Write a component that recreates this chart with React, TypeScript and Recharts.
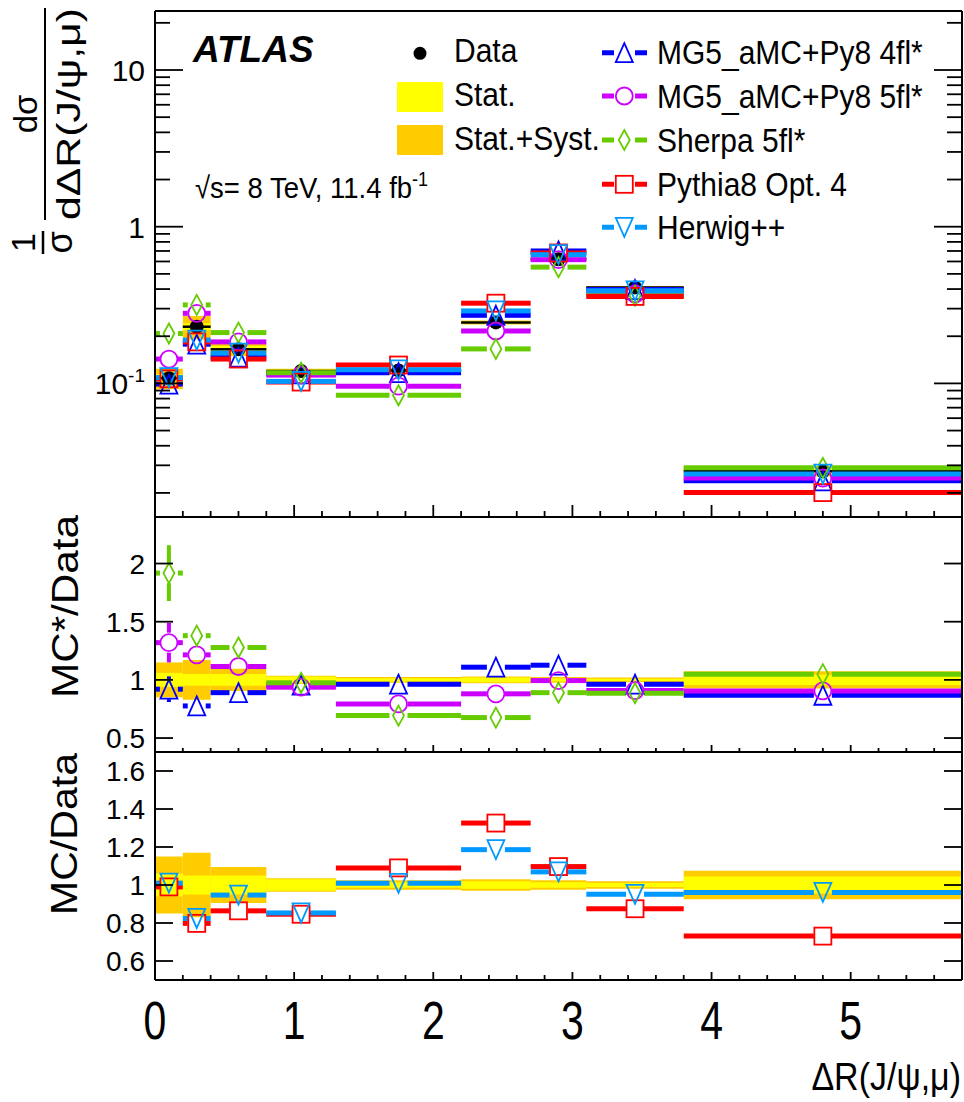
import React from 'react';
import { ComposedChart, XAxis, YAxis, Scatter, ReferenceArea, ReferenceLine } from 'recharts';

// bins in ΔR(J/ψ,μ)
const binEdges = [0, 0.2, 0.4, 0.8, 1.3, 2.2, 2.7, 3.1, 3.8, 5.8];

// 1/σ dσ/dΔR : measured
const dataVals = [0.108, 0.23, 0.165, 0.12, 0.121, 0.245, 0.62, 0.41, 0.0275];
// relative uncertainties (bands)
const statErr = [0.06, 0.05, 0.05, 0.03, 0.015, 0.02, 0.015, 0.01, 0.045];
const totErr = [0.15, 0.17, 0.095, 0.035, 0.025, 0.03, 0.025, 0.02, 0.075];

// predictions, top panel
const mg4Vals = [0.099, 0.178, 0.147, 0.115, 0.117, 0.272, 0.7, 0.397, 0.0239];
const mg5Vals = [0.143, 0.28, 0.184, 0.113, 0.096, 0.216, 0.616, 0.372, 0.0249];
const sherpaVals = [0.208, 0.317, 0.211, 0.117, 0.084, 0.166, 0.552, 0.363, 0.0289];
const pythiaVals = [0.107, 0.184, 0.143, 0.102, 0.131, 0.325, 0.68, 0.359, 0.0201];
const herwigVals = [0.109, 0.189, 0.156, 0.103, 0.122, 0.29, 0.663, 0.39, 0.0264];

// MC / data ratios
const mg4Ratio = [0.92, 0.776, 0.89, 0.955, 0.963, 1.109, 1.126, 0.963, 0.868];
const mg5Ratio = [1.32, 1.215, 1.115, 0.937, 0.793, 0.88, 0.994, 0.908, 0.905];
const sherpaRatio = [1.918, 1.38, 1.278, 0.975, 0.693, 0.676, 0.89, 0.885, 1.049];
const pythiaRatio = [0.99, 0.798, 0.864, 0.846, 1.09, 1.326, 1.097, 0.875, 0.731];
const herwigRatio = [1.01, 0.824, 0.947, 0.853, 1.009, 1.186, 1.069, 0.951, 0.961];

const mg4RatioErr = [0.11, 0, 0, 0, 0, 0, 0, 0, 0];
const mg5RatioErr = [0.17, 0, 0, 0, 0, 0, 0, 0, 0];
const sherpaRatioErr = [0.24, 0, 0, 0, 0, 0, 0, 0, 0];

// axis ticks
const xTicks = [0, 0.2, 0.4, 0.6, 0.8, 1, 1.2, 1.4, 1.6, 1.8, 2, 2.2, 2.4, 2.6, 2.8, 3, 3.2, 3.4, 3.6, 3.8, 4, 4.2, 4.4, 4.6, 4.8, 5, 5.2, 5.4, 5.6];
const xMajors = [0, 1, 2, 3, 4, 5];
const logTicks = [0.02, 0.03, 0.04, 0.05, 0.06, 0.07, 0.08, 0.09, 0.1, 0.2, 0.3, 0.4, 0.5, 0.6, 0.7, 0.8, 0.9, 1, 2, 3, 4, 5, 6, 7, 8, 9, 10, 20];
const logMajors = [0.1, 1, 10];
const midTicks = [0.5, 1, 1.5, 2];
const lowTicks = [0.6, 0.8, 1, 1.2, 1.4, 1.6];

const FONT = '"Liberation Sans", Arial, Helvetica, sans-serif';
const AXIS = { stroke: '#000', strokeWidth: 2 };
const YELLOW = '#ffff00';
const ORANGE = '#ffcc00';

type Kind = 'tri' | 'itri' | 'circ' | 'diam' | 'sq' | 'dot';

const models = [
  { name: 'MG5_aMC+Py8 4fl*', color: '#0000ff', kind: 'tri' as Kind, vals: mg4Vals, ratio: mg4Ratio, err: mg4RatioErr },
  { name: 'MG5_aMC+Py8 5fl*', color: '#cc00ff', kind: 'circ' as Kind, vals: mg5Vals, ratio: mg5Ratio, err: mg5RatioErr },
  { name: 'Sherpa 5fl*', color: '#66cc00', kind: 'diam' as Kind, vals: sherpaVals, ratio: sherpaRatio, err: sherpaRatioErr },
  { name: 'Pythia8 Opt. 4', color: '#ff0000', kind: 'sq' as Kind, vals: pythiaVals, ratio: pythiaRatio, err: null },
  { name: 'Herwig++', color: '#0099ff', kind: 'itri' as Kind, vals: herwigVals, ratio: herwigRatio, err: null },
];

const centers = binEdges.slice(0, -1).map((lo, i) => (lo + binEdges[i + 1]) / 2);

function Marker({ kind, cx, cy, color }: { kind: Kind; cx: number; cy: number; color: string }) {
  const sw = 1.8;
  if (cx == null || cy == null || isNaN(cx) || isNaN(cy)) return <g />;
  switch (kind) {
    case 'tri':
      return <polygon points={`${cx},${cy - 9.5} ${cx + 8.5},${cy + 9.5} ${cx - 8.5},${cy + 9.5}`} fill="none" stroke={color} strokeWidth={sw} />;
    case 'itri':
      return <polygon points={`${cx - 8.5},${cy - 9.5} ${cx + 8.5},${cy - 9.5} ${cx},${cy + 9.5}`} fill="none" stroke={color} strokeWidth={sw} />;
    case 'circ':
      return <circle cx={cx} cy={cy} r={8.5} fill="none" stroke={color} strokeWidth={sw} />;
    case 'diam':
      return <polygon points={`${cx},${cy - 10} ${cx + 5.5},${cy} ${cx},${cy + 10} ${cx - 5.5},${cy}`} fill="none" stroke={color} strokeWidth={sw} />;
    case 'sq':
      return <rect x={cx - 8.5} y={cy - 8.5} width={17} height={17} fill="none" stroke={color} strokeWidth={sw} />;
    default:
      return <circle cx={cx} cy={cy} r={7} fill="#000" />;
  }
}

// line drawn with a hole in the middle, where the marker sits
const gapLine = (color: string, w: number, gap: number) => (p: any) => {
  const x1 = Number(p.x1), y1 = Number(p.y1), x2 = Number(p.x2), y2 = Number(p.y2);
  if (![x1, y1, x2, y2].every(Number.isFinite)) return <g />;
  const len = Math.hypot(x2 - x1, y2 - y1);
  if (len / 2 <= gap) return <g />;
  const ux = (x2 - x1) / len, uy = (y2 - y1) / len;
  const mx = (x1 + x2) / 2, my = (y1 + y2) / 2;
  return (
    <g>
      <line x1={x1} y1={y1} x2={mx - ux * gap} y2={my - uy * gap} stroke={color} strokeWidth={w} />
      <line x1={mx + ux * gap} y1={my + uy * gap} x2={x2} y2={y2} stroke={color} strokeWidth={w} />
    </g>
  );
};

const bandAreas = (base: (i: number) => number, key: string) => [
  ...totErr.map((e, i) => (
    <ReferenceArea key={`${key}t${i}`} x1={binEdges[i]} x2={binEdges[i + 1]} y1={base(i) * (1 - e)} y2={base(i) * (1 + e)} fill={ORANGE} fillOpacity={1} stroke="none" />
  )),
  ...statErr.map((e, i) => (
    <ReferenceArea key={`${key}s${i}`} x1={binEdges[i]} x2={binEdges[i + 1]} y1={base(i) * (1 - e)} y2={base(i) * (1 + e)} fill={YELLOW} fillOpacity={1} stroke="none" />
  )),
];

const stepLines = (vals: number[], color: string, w: number, gap: number, key: string) =>
  vals.map((v, i) => (
    <ReferenceLine key={`${key}${i}`} segment={[{ x: binEdges[i], y: v }, { x: binEdges[i + 1], y: v }]} shape={gapLine(color, w, gap)} />
  ));

const errLines = (vals: number[], errs: number[] | null, color: string, key: string) =>
  (errs || [])
    .map((e, i) =>
      e > 0 ? (
        <ReferenceLine key={`${key}${i}`} segment={[{ x: centers[i], y: vals[i] - e }, { x: centers[i], y: vals[i] + e }]} shape={gapLine(color, 4, 10)} />
      ) : null
    )
    .filter(Boolean);

const markers = (vals: number[], kind: Kind, color: string, key: string) => (
  <Scatter
    key={key}
    data={centers.map((x, i) => ({ x, y: vals[i] }))}
    dataKey="y"
    isAnimationActive={false}
    shape={(p: any) => <Marker kind={kind} cx={p.cx} cy={p.cy} color={color} />}
  />
);

function xTick(p: any, majorLen: number, minorLen: number, side: 'bottom' | 'top', label: boolean) {
  const v = p.payload.value;
  const major = xMajors.some((m) => Math.abs(m - v) < 1e-6);
  const len = major ? majorLen : minorLen;
  const y2 = side === 'bottom' ? p.y - len : p.y + len;
  return (
    <g>
      <line x1={p.x} y1={p.y} x2={p.x} y2={y2} stroke="#000" strokeWidth={1.8} />
      {label && major ? (
        <text transform={`translate(${p.x},${p.y + 59}) scale(1,1.3)`} textAnchor="middle" fontFamily={FONT} fontSize={41} fill="#000">
          {Math.round(v)}
        </text>
      ) : null}
    </g>
  );
}

function yTick(
  p: any,
  majors: number[],
  majorLen: number,
  minorLen: number,
  side: 'left' | 'right',
  size: number,
  label?: (v: number) => React.ReactNode
) {
  const v = p.payload.value;
  const major = majors.some((m) => Math.abs(m - v) < 1e-9);
  const len = major ? majorLen : minorLen;
  const dir = side === 'left' ? 1 : -1;
  return (
    <g>
      <line x1={p.x} y1={p.y} x2={p.x + dir * len} y2={p.y} stroke="#000" strokeWidth={1.8} />
      {label && side === 'left' && major ? (
        <text x={p.x - 10} y={p.y} dy={size * 0.36} textAnchor="end" fontFamily={FONT} fontSize={size} fill="#000">
          {label(v)}
        </text>
      ) : null}
    </g>
  );
}

const logLabel = (v: number) =>
  v === 0.1 ? (
    <>
      <tspan>10</tspan>
      <tspan dy={-12} fontSize={19}>-1</tspan>
    </>
  ) : (
    String(v)
  );

// bottom axis of height h, plus a 1px top axis that only carries ticks and the frame line
const xAxes = (h: number, bMaj: number, bMin: number, tMaj: number, tMin: number, label: boolean) => [
  <XAxis key="xb" xAxisId={0} dataKey="x" type="number" domain={[0, 5.8]} allowDataOverflow ticks={xTicks} interval={0} height={h} tickSize={0} tickMargin={0} axisLine={AXIS} tickLine={false} tick={(p: any) => xTick(p, bMaj, bMin, 'bottom', label)} />,
  <XAxis key="xt" xAxisId="t" orientation="top" type="number" domain={[0, 5.8]} allowDataOverflow ticks={xTicks} interval={0} height={1} tickSize={0} tickMargin={0} axisLine={AXIS} tickLine={false} tick={(p: any) => xTick(p, tMaj, tMin, 'top', false)} />,
];

const yAxes = (domain: number[], ticks: number[], majors: number[], majLen: number, minLen: number, size: number, label: (v: number) => React.ReactNode, log: boolean) => [
  <YAxis key="yl" yAxisId={0} type="number" scale={log ? 'log' : 'linear'} domain={domain} allowDataOverflow ticks={ticks} interval={0} width={60} tickSize={0} tickMargin={0} axisLine={AXIS} tickLine={false} tick={(p: any) => yTick(p, majors, majLen, minLen, 'left', size, label)} />,
  <YAxis key="yr" yAxisId="r" orientation="right" type="number" scale={log ? 'log' : 'linear'} domain={domain} allowDataOverflow ticks={ticks} interval={0} width={1} tickSize={0} tickMargin={0} axisLine={AXIS} tickLine={false} tick={(p: any) => yTick(p, majors, majLen, minLen, 'right', size)} />,
];

function TopPanel() {
  return (
    <ComposedChart width={964} height={521} margin={{ top: 10, right: 1, bottom: 3, left: 95 }}>
      {bandAreas((i) => dataVals[i], 'b1')}
      {stepLines(dataVals, '#000', 2.5, 0, 'd1')}
      {models.map((m) => stepLines(m.vals, m.color, 5, 9, `l1${m.kind}`))}
      {markers(dataVals, 'dot', '#000', 'dm1')}
      {models.map((m) => markers(m.vals, m.kind, m.color, `m1${m.kind}`))}
      {xAxes(1, 12, 6, 14, 5, false)}
      {yAxes([0.01404, 23.8], logTicks, logMajors, 28, 15, 30, logLabel, true)}
    </ComposedChart>
  );
}

function RatioPanel({ which, height, bottom, xh, domain, ticks, ticksLen }: any) {
  const ms = models.filter((m, i) => (which === 'mc' ? i < 3 : i >= 3));
  return (
    <ComposedChart width={964} height={height} margin={{ top: 3, right: 1, bottom, left: 95 }}>
      {bandAreas(() => 1, 'b')}
      {ms.map((m) => stepLines(m.ratio, m.color, 5, 9, `l${m.kind}`))}
      {ms.map((m) => errLines(m.ratio, m.err, m.color, `e${m.kind}`))}
      {ms.map((m) => markers(m.ratio, m.kind, m.color, `m${m.kind}`))}
      {which === 'mc' ? xAxes(xh, 7, 4, 7, 4, false) : xAxes(xh, 8, 5, 8, 4, true)}
      {yAxes(domain, ticks, ticks, ticksLen, ticksLen, 28, (v) => String(v), false)}
    </ComposedChart>
  );
}

function T({ x, y, size, sy = 1.1, anchor = 'start', children, ...rest }: any) {
  return (
    <text transform={`translate(${x},${y}) scale(1,${sy})`} fontSize={size} fontFamily={FONT} textAnchor={anchor} fill="#000" {...rest}>
      {children}
    </text>
  );
}

const legendRows = [52.7, 96, 140, 184.3, 227.3];

function Overlay() {
  return (
    <svg width={964} height={1102} style={{ position: 'absolute', left: 0, top: 0, pointerEvents: 'none' }}>
      <T x={193} y={61.7} size={37} sy={1} fontWeight="bold" fontStyle="italic">ATLAS</T>
      <T x={195} y={198.3} size={27.5}>
        √s= 8 TeV, 11.4 fb<tspan dy={-11} fontSize={18}>-1</tspan>
      </T>

      <circle cx={420} cy={53.3} r={6.5} fill="#000" />
      <T x={454} y={62.3} size={30}>Data</T>
      <rect x={397} y={82} width={46} height={30} fill={YELLOW} />
      <T x={454} y={106} size={30}>Stat.</T>
      <rect x={397} y={125} width={46} height={30} fill={ORANGE} />
      <T x={454} y={150} size={30}>Stat.+Syst.</T>

      {models.map((m, i) => (
        <g key={m.name}>
          <line x1={602} x2={647} y1={legendRows[i]} y2={legendRows[i]} stroke={m.color} strokeWidth={5} />
          <rect x={614} y={legendRows[i] - 10} width={21} height={20} fill="#fff" />
          <Marker kind={m.kind} cx={624.3} cy={legendRows[i]} color={m.color} />
          <T x={657} y={legendRows[i] + 11.5} size={30}>{m.name}</T>
        </g>
      ))}

      <g transform="translate(45,130) rotate(-90)" fontFamily={FONT} fill="#000">
        <line x1={-90} x2={122} y1={0} y2={0} stroke="#000" strokeWidth={2} />
        <text x={16} y={-8} textAnchor="middle" fontSize={33}>dσ</text>
        <text x={16} y={35} textAnchor="middle" fontSize={33} textLength={212} lengthAdjust="spacingAndGlyphs">dΔR(J/ψ,μ)</text>
        <line x1={-124} x2={-101} y1={-2} y2={-2} stroke="#000" strokeWidth={2.5} />
        <text x={-112.5} y={-10} textAnchor="middle" fontSize={34}>1</text>
        <text x={-112.5} y={27} textAnchor="middle" fontSize={36}>σ</text>
      </g>
      <g transform="translate(78,606.5) rotate(-90)" fontFamily={FONT} fill="#000">
        <text x={0} y={0} textAnchor="middle" fontSize={37} textLength={183} lengthAdjust="spacingAndGlyphs">MC*/Data</text>
      </g>
      <g transform="translate(77,834) rotate(-90)" fontFamily={FONT} fill="#000">
        <text x={0} y={0} textAnchor="middle" fontSize={37} textLength={162} lengthAdjust="spacingAndGlyphs">MC/Data</text>
      </g>

      <T x={961} y={1090} size={34} sy={1.15} anchor="end">ΔR(J/ψ,μ)</T>
    </svg>
  );
}

export default function App() {
  return (
    <div style={{ position: 'absolute', left: 0, top: 0, width: 964, height: 1102, background: '#fff', fontFamily: FONT }}>
      <div style={{ position: 'absolute', left: 0, top: 0 }}>
        <TopPanel />
      </div>
      <div style={{ position: 'absolute', left: 0, top: 513 }}>
        <RatioPanel which="mc" height={243} bottom={3} xh={1} domain={[0.38, 2.4]} ticks={midTicks} ticksLen={18} />
      </div>
      <div style={{ position: 'absolute', left: 0, top: 748 }}>
        <RatioPanel which="gen" height={312} bottom={0} xh={80} domain={[0.5, 1.7]} ticks={lowTicks} ticksLen={18} />
      </div>
      <Overlay />
    </div>
  );
}
